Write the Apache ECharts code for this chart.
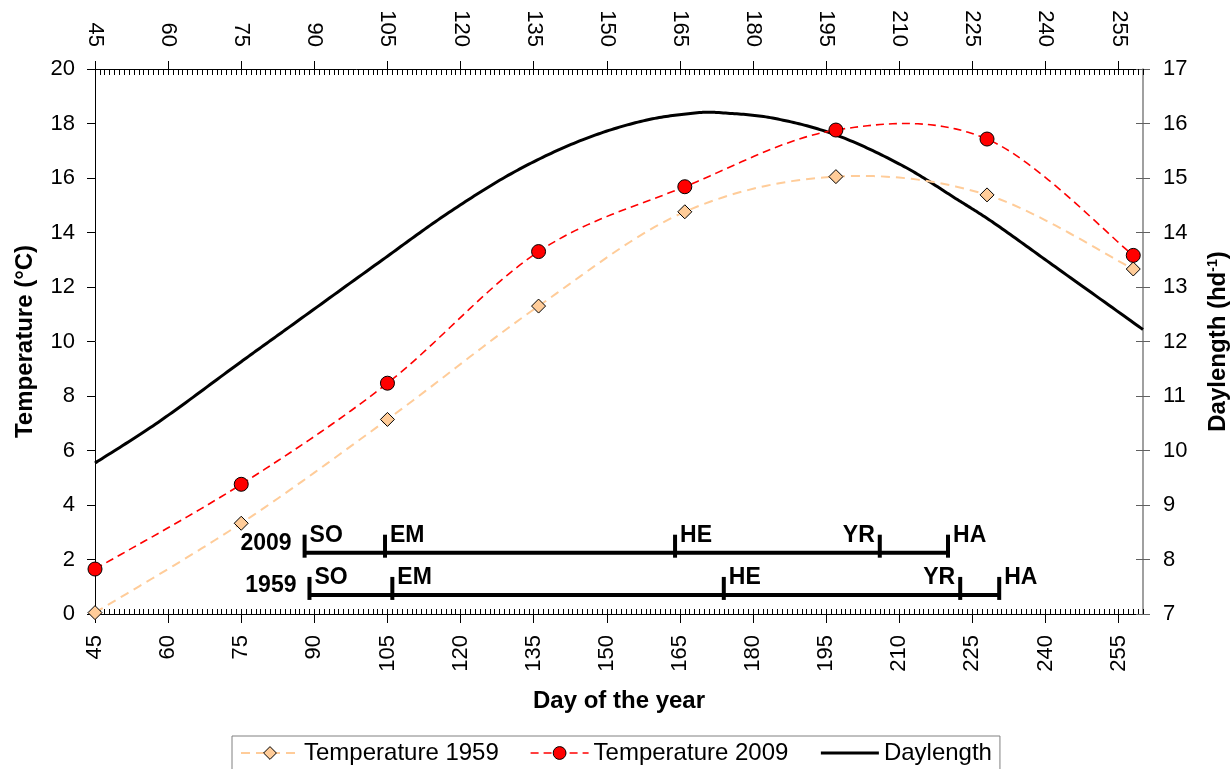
<!DOCTYPE html>
<html>
<head>
<meta charset="utf-8">
<script src="https://cdn.jsdelivr.net/npm/echarts@6/dist/echarts.min.js"></script>
<style>
html,body{margin:0;padding:0;background:#fff;}
#chart{width:1230px;height:769px;}
</style>
</head>
<body>
<div id="chart"></div>
<script>
// ---- data ----
const days = [45, 75, 105, 136, 166, 197, 228, 258];
const temp1959 = [0.05, 3.33, 7.14, 11.30, 14.76, 16.05, 15.38, 12.66];
const temp2009 = [1.65, 4.76, 8.47, 13.30, 15.68, 17.76, 17.43, 13.16];
const dlDays = [45, 58, 75, 84, 104, 117, 131, 145, 158, 169, 173, 184, 197, 211, 222, 229, 242, 260];
const dlHours = [9.77, 10.52, 11.63, 12.21, 13.50, 14.33, 15.11, 15.70, 16.06, 16.20, 16.20, 16.10, 15.79, 15.21, 14.60, 14.20, 13.37, 12.22];
const stageNames = ['SO', 'EM', 'HE', 'YR', 'HA'];
const stages2009 = [88, 104.5, 164, 206, 220];
const stages1959 = [89, 106, 174, 222.5, 230.5];
const phaseYears = ['2009', '1959'];
const phaseLevels = [2.25, 0.70];
const seriesNames = ['Temperature 1959', 'Temperature 2009', 'Daylength'];

// ---- chart ----
const FONT = '"Liberation Sans", Arial, sans-serif';
const stagesAll = [stages2009, stages1959];
const stageAlign = ['left', 'left', 'left', 'right', 'left'];

const chart = echarts.init(document.getElementById('chart'), null, {renderer: 'canvas'});

// smooth curve through pixel points (Excel-like cubic smoothing)
function smoothCurve(px) {
  const n = px.length;
  const slope = px.map(function (p, i) {
    if (i === 0) return (px[1][1] - p[1]) / (px[1][0] - p[0]);
    if (i === n - 1) return (p[1] - px[n - 2][1]) / (p[0] - px[n - 2][0]);
    return (px[i + 1][1] - px[i - 1][1]) / (px[i + 1][0] - px[i - 1][0]);
  });
  const out = [px[0].slice()];
  for (let i = 0; i < n - 1; i++) {
    const p0 = px[i], p3 = px[i + 1];
    const h = p3[0] - p0[0];
    const f0 = (i === 0) ? h / 6 : h / 3;
    const f1 = (i === n - 2) ? h / 6 : h / 3;
    const p1 = [p0[0] + f0, p0[1] + slope[i] * f0];
    const p2 = [p3[0] - f1, p3[1] - slope[i + 1] * f1];
    const steps = 24;
    for (let s = 1; s <= steps; s++) {
      const t = s / steps, u = 1 - t;
      out.push([
        u * u * u * p0[0] + 3 * u * u * t * p1[0] + 3 * u * t * t * p2[0] + t * t * t * p3[0],
        u * u * u * p0[1] + 3 * u * u * t * p1[1] + 3 * u * t * t * p2[1] + t * t * t * p3[1]
      ]);
    }
  }
  return out;
}

function curveSeries(name, xs, ys, yAxisIndex, stroke, width, dash, z) {
  return {
    name: name, type: 'custom', xAxisIndex: 0, yAxisIndex: yAxisIndex,
    clip: false, z: z, silent: true,
    data: xs.map(function (d, i) { return [d, ys[i]]; }),
    encode: {x: 0, y: 1},
    renderItem: function (params, api) {
      if (params.dataIndex !== 0) return null;
      const px = xs.map(function (d, i) { return api.coord([d, ys[i]]); });
      return {
        type: 'polyline',
        shape: {points: smoothCurve(px)},
        style: {stroke: stroke, lineWidth: width, fill: null, lineDash: dash}
      };
    }
  };
}

function xAxisBase(pos) {
  return {type: 'value', min: 45, max: 260, position: pos, splitLine: {show: false}};
}

const option = {
  animation: false,
  backgroundColor: '#fff',
  grid: {left: 95, right: 87, top: 69, bottom: 155, containLabel: false, outerBoundsMode: 'none'},
  legend: {
    data: [
      {name: seriesNames[0], lineStyle: {opacity: 1, width: 2}, itemStyle: {opacity: 1, borderWidth: 1}},
      {name: seriesNames[1], lineStyle: {opacity: 1, width: 1.6}, itemStyle: {opacity: 1, borderWidth: 1}},
      {name: seriesNames[2], lineStyle: {opacity: 1, width: 3}, itemStyle: {opacity: 0}}
    ],
    left: 232, top: 736,
    orient: 'horizontal',
    itemWidth: 58, itemHeight: 16, itemGap: 31,
    padding: [5, 8, 10, 8],
    borderColor: '#808080', borderWidth: 1,
    textStyle: {fontSize: 24, fontFamily: FONT, color: '#000'}
  },
  xAxis: [
    Object.assign(xAxisBase('bottom'), {
      interval: 15,
      axisLine: {show: true, lineStyle: {color: '#000', width: 1}},
      axisTick: {show: true, inside: false, length: 9, lineStyle: {color: '#000'}},
      axisLabel: {rotate: 90, margin: 21, fontSize: 22, fontFamily: FONT, color: '#000', showMaxLabel: false},
      name: 'Day of the year', nameLocation: 'middle', nameGap: 75,
      nameTextStyle: {fontSize: 24, fontWeight: 'bold', fontFamily: FONT, color: '#000'}
    }),
    Object.assign(xAxisBase('top'), {
      interval: 15,
      axisLine: {show: true, lineStyle: {color: '#000', width: 1}},
      axisTick: {show: true, inside: false, length: 8, lineStyle: {color: '#000'}},
      axisLabel: {rotate: 90, margin: 22, fontSize: 22, fontFamily: FONT, color: '#000', showMaxLabel: false}
    }),
    Object.assign(xAxisBase('bottom'), {
      interval: 1,
      axisLine: {show: false},
      axisTick: {show: true, inside: true, length: 5, lineStyle: {color: '#000'}},
      axisLabel: {show: false}
    }),
    Object.assign(xAxisBase('top'), {
      interval: 1,
      axisLine: {show: false},
      axisTick: {show: true, inside: true, length: 6, lineStyle: {color: '#000'}},
      axisLabel: {show: false}
    })
  ],
  yAxis: [
    {
      type: 'value', min: 0, max: 20, interval: 2, position: 'left',
      splitLine: {show: false},
      axisLine: {show: true, lineStyle: {color: '#000', width: 1}},
      axisTick: {show: true, inside: false, length: 8, lineStyle: {color: '#000'}},
      axisLabel: {margin: 20, fontSize: 22, fontFamily: FONT, color: '#000'},
      name: 'Temperature (°C)', nameLocation: 'middle', nameGap: 58,
      nameTextStyle: {fontSize: 24, fontWeight: 'bold', fontFamily: FONT, color: '#000'}
    },
    {
      type: 'value', min: 7, max: 17, interval: 1, position: 'right',
      splitLine: {show: false},
      axisLine: {show: true, lineStyle: {color: '#808080', width: 1.5}},
      axisTick: {show: true, inside: false, length: 7, lineStyle: {color: '#606060'}},
      axisLabel: {margin: 20, fontSize: 22, fontFamily: FONT, color: '#000'},
      name: '{t|Daylength (hd}{s|-1}{t|)}', nameLocation: 'middle', nameGap: 63,
      nameTextStyle: {
        rich: {
          t: {fontSize: 24, fontWeight: 'bold', fontFamily: FONT, color: '#000'},
          s: {fontSize: 14, fontWeight: 'bold', fontFamily: FONT, color: '#000', verticalAlign: 'top'}
        }
      }
    },
    {
      type: 'value', min: 7, max: 17, interval: 1, position: 'right',
      splitLine: {show: false},
      axisLine: {show: false},
      axisTick: {show: true, inside: true, length: 7, lineStyle: {color: '#606060'}},
      axisLabel: {show: false}
    }
  ],
  series: [
    curveSeries('DaylengthCurve', dlDays, dlHours, 1, '#000', 3, null, 2),
    curveSeries('Curve1959', days, temp1959, 0, '#FFCC99', 2, [9, 6], 3),
    curveSeries('Curve2009', days, temp2009, 0, '#FF0000', 1.6, [8, 5], 3),
    {
      name: seriesNames[2], type: 'line', xAxisIndex: 0, yAxisIndex: 1,
      data: dlDays.map((d, i) => [d, dlHours[i]]),
      symbol: 'none', showSymbol: false,
      lineStyle: {color: '#000', width: 3, opacity: 0},
      itemStyle: {color: '#000'},
      z: 1
    },
    {
      name: seriesNames[0], type: 'line', xAxisIndex: 0, yAxisIndex: 0,
      data: days.map((d, i) => [d, temp1959[i]]),
      symbol: 'diamond', symbolSize: 14,
      lineStyle: {color: '#FFCC99', width: 2, type: [9, 6], opacity: 0},
      itemStyle: {color: '#FFCC99', borderColor: '#000', borderWidth: 1},
      z: 4
    },
    {
      name: seriesNames[1], type: 'line', xAxisIndex: 0, yAxisIndex: 0,
      data: days.map((d, i) => [d, temp2009[i]]),
      symbol: 'circle', symbolSize: 14,
      lineStyle: {color: '#FF0000', width: 1.6, type: [8, 5], opacity: 0},
      itemStyle: {color: '#FF0000', borderColor: '#000', borderWidth: 1},
      z: 4
    },
    {
      name: 'Phases', type: 'custom', xAxisIndex: 0, yAxisIndex: 0,
      clip: false, z: 5, silent: true,
      data: phaseYears.map((y, i) => ({name: y, value: [stagesAll[i][0], phaseLevels[i]]})),
      encode: {x: 0, y: 1},
      renderItem: function (params, api) {
        const i = params.dataIndex;
        const st = stagesAll[i];
        const lvl = phaseLevels[i];
        const a = api.coord([st[0], lvl]);
        const b = api.coord([st[st.length - 1], lvl]);
        const children = [{
          type: 'line',
          shape: {x1: a[0], y1: a[1], x2: b[0], y2: b[1]},
          style: {stroke: '#000', lineWidth: 4}
        }];
        st.forEach(function (d, k) {
          const p = api.coord([d, lvl]);
          children.push({
            type: 'line',
            shape: {x1: p[0], y1: p[1] - 18, x2: p[0], y2: p[1] + 5},
            style: {stroke: '#000', lineWidth: 4}
          });
          const al = stageAlign[k];
          children.push({
            type: 'text',
            x: p[0] + (al === 'left' ? 5 : -5),
            y: p[1] - 17,
            style: {
              text: stageNames[k], fill: '#000',
              font: 'bold 23px ' + FONT,
              textAlign: al, textVerticalAlign: 'middle'
            }
          });
        });
        children.push({
          type: 'text',
          x: a[0] - 13,
          y: a[1] - 9,
          style: {
            text: phaseYears[i], fill: '#000',
            font: 'bold 23px ' + FONT,
            textAlign: 'right', textVerticalAlign: 'middle'
          }
        });
        return {type: 'group', children: children};
      }
    }
  ]
};
chart.setOption(option);
</script>
</body>
</html>
